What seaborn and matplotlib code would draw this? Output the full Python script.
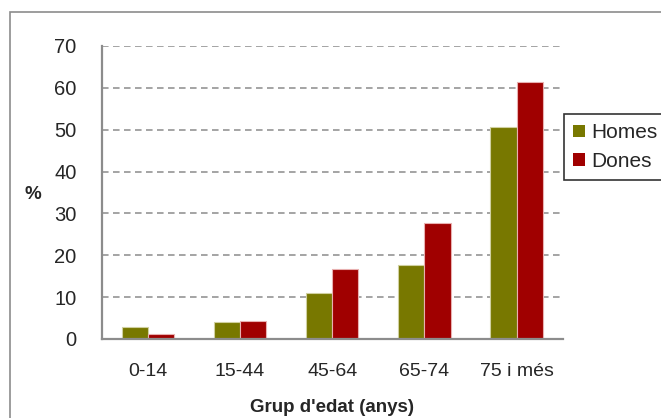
import matplotlib
matplotlib.use("Agg")
import matplotlib.pyplot as plt
from matplotlib.patches import Rectangle
from matplotlib.ticker import FixedLocator
import seaborn as sns
import pandas as pd

categories = ["0-14", "15-44", "45-64", "65-74", "75 i més"]
homes = [2.8, 4.0, 10.9, 17.6, 50.6]
dones = [1.3, 4.4, 16.8, 27.7, 61.4]
series_names = ["Homes", "Dones"]
y_ticks = [0, 10, 20, 30, 40, 50, 60, 70]

df = pd.DataFrame({
    "cat": categories * 2,
    "val": homes + dones,
    "sex": [series_names[0]] * len(categories) + [series_names[1]] * len(categories),
})

sns.set_style("white")
plt.rcParams["font.family"] = ["Liberation Sans", "DejaVu Sans"]

fig = plt.figure(figsize=(6.61, 4.18), dpi=100)
ax = fig.add_axes([101.7 / 661, 1 - 339 / 418, (562.7 - 101.7) / 661, (339 - 46) / 418])

palette = {"Homes": "#787800", "Dones": "#a00000"}
sns.barplot(data=df, x="cat", y="val", hue="sex", order=categories,
            hue_order=series_names, palette=palette, width=0.57, gap=0,
            saturation=1, ax=ax, legend=True)

for patch, ec in zip(ax.patches, ["#d0d0a0"] * 5 + ["#e8b0b0"] * 5):
    patch.set_edgecolor(ec)
    patch.set_linewidth(0.8)

ax.set_ylim(0, 70)
ax.set_xlim(-0.5, 4.5)
ax.set_yticks(y_ticks)
ax.set_yticklabels([str(t) for t in y_ticks], fontsize=14.5)
ax.yaxis.grid(True, color="#8c8c8c", linestyle=(0, (4.3, 2.9)), linewidth=1.1)
ax.set_axisbelow(True)

ax.tick_params(axis="x", which="major", length=0, labelsize=14, pad=17)
ax.xaxis.set_minor_locator(FixedLocator([-0.5, 0.5, 1.5, 2.5, 3.5, 4.5]))
ax.tick_params(axis="x", which="minor", length=5, width=1.3, color="#8c8c8c", direction="out")
ax.tick_params(axis="y", length=6, width=1.3, color="#8c8c8c", direction="out", pad=12)

for s in ["top", "right"]:
    ax.spines[s].set_visible(False)
for s in ["left", "bottom"]:
    ax.spines[s].set_color("#8c8c8c")
    ax.spines[s].set_linewidth(1.6)

ax.set_xlabel("Grup d'edat (anys)", fontsize=13.5, fontweight="bold", labelpad=14)
ax.set_ylabel("")
fig.text(33 / 661, 1 - 195 / 418, "%", fontsize=13.5, fontweight="bold", ha="center", va="center")

leg = ax.legend(loc="upper left", bbox_to_anchor=(564 / 661, 1 - 114 / 418),
                bbox_transform=fig.transFigure, frameon=True, fancybox=False,
                edgecolor="black", fontsize=15, handlelength=0.55, handleheight=0.55,
                handletextpad=0.3, borderpad=0.45, labelspacing=0.45, borderaxespad=0)
leg.get_frame().set_linewidth(1.2)
for h in leg.legend_handles:
    h.set_edgecolor("none")

fig.patches.append(Rectangle((10.3 / 661, -0.1), 1.2, 1.1 - 12.3 / 418,
                             transform=fig.transFigure, fill=False,
                             edgecolor="#8c8c8c", linewidth=1.2))

fig.savefig("out.png", dpi=100)
